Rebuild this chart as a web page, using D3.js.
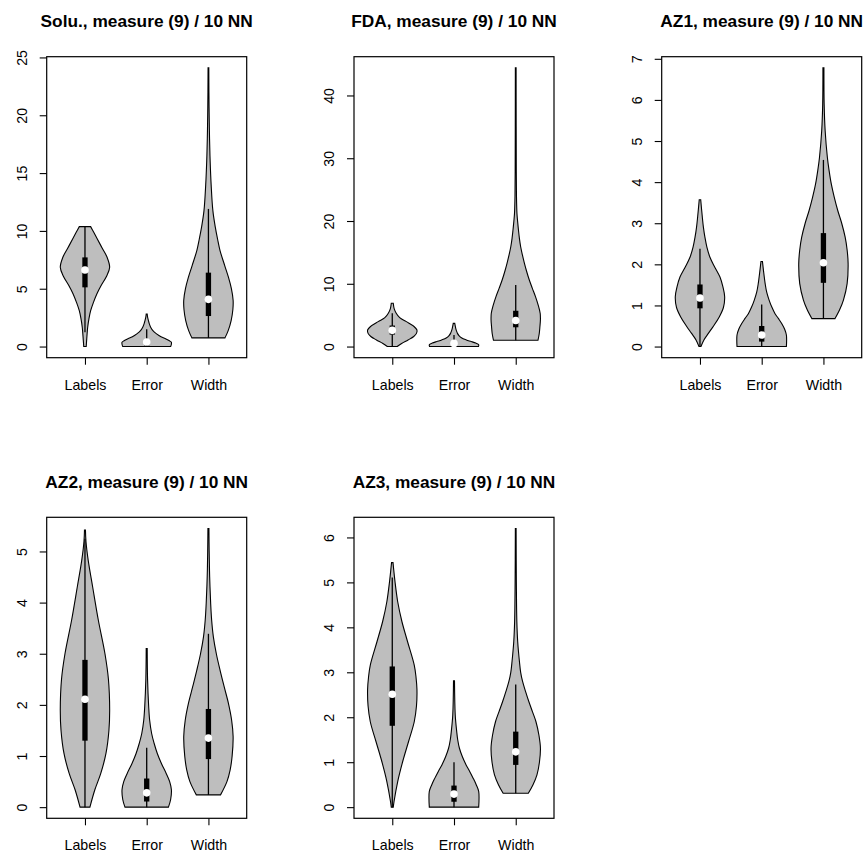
<!DOCTYPE html>
<html><head><meta charset="utf-8">
<script src="https://cdn.jsdelivr.net/npm/d3@7"></script>
<style>body{margin:0;background:#fff}</style>
</head><body><svg id="chart" width="865" height="852"></svg>
<script>
const categories = ["Labels", "Error", "Width"];
const panelTitles = ["Solu., measure (9) / 10 NN", "FDA, measure (9) / 10 NN", "AZ1, measure (9) / 10 NN",
                     "AZ2, measure (9) / 10 NN", "AZ3, measure (9) / 10 NN"];
const yTicks = [[0, 5, 10, 15, 20, 25], [0, 10, 20, 30, 40], [0, 1, 2, 3, 4, 5, 6, 7], [0, 1, 2, 3, 4, 5], [0, 1, 2, 3, 4, 5, 6]];

// density profiles: [value, relative half-width]
const soluLabels = [[0,0.05],[0.6,0.07],[1.67,0.11],[2.4,0.16],[3.1,0.23],[3.8,0.34],[4.55,0.48],[5.3,0.66],[6.1,0.88],[6.85,1.0],[7.7,0.9],[8.5,0.7],[9.3,0.5],[9.9,0.35],[10.37,0.23]];
const soluError  = [[0,0.97],[0.2,1.0],[0.37,1.0],[0.5,0.92],[0.66,0.78],[0.85,0.58],[1.1,0.4],[1.35,0.26],[1.67,0.16],[2.0,0.1],[2.25,0.07],[2.5,0.04],[2.82,0.02]];
const soluWidth  = [[0.75,0.67],[1.38,0.8],[2.25,0.92],[3.2,0.99],[4.0,1.0],[5.0,0.93],[6.0,0.81],[7.0,0.66],[8.3,0.47],[9.3,0.37],[10.3,0.28],[11.75,0.18],[14,0.11],[16,0.07],[18,0.045],[20,0.03],[22,0.02],[24.1,0.015]];
const fdaLabels  = [[0,0.2],[0.5,0.38],[1.05,0.64],[1.6,0.87],[2.1,0.98],[2.64,1.0],[3.2,0.88],[3.97,0.57],[4.6,0.3],[5.3,0.16],[6.0,0.08],[6.9,0.04]];
const fdaError   = [[0,0.99],[0.3,1.0],[0.55,0.88],[0.8,0.7],[1.05,0.5],[1.4,0.3],[1.75,0.2],[2.1,0.14],[2.5,0.1],[2.9,0.07],[3.3,0.05],[3.7,0.03]];
const fdaWidth   = [[1.0,0.9],[2,0.95],[3.2,0.98],[4.3,1.0],[5.3,0.99],[6.6,0.91],[7.95,0.8],[9.3,0.67],[10.6,0.55],[12,0.44],[13.3,0.35],[14.6,0.27],[15.9,0.2],[17.2,0.15],[18.6,0.11],[20,0.075],[21.2,0.05],[24,0.03],[28,0.022],[35,0.018],[44.4,0.015]];
const az1Labels  = [[0,0.04],[0.16,0.16],[0.32,0.34],[0.5,0.55],[0.72,0.78],[0.95,0.95],[1.21,1.0],[1.45,0.93],[1.69,0.81],[1.93,0.6],[2.18,0.4],[2.42,0.28],[2.66,0.2],[2.9,0.14],[3.15,0.095],[3.57,0.03]];
const az1Error   = [[0,1.0],[0.28,1.0],[0.42,0.93],[0.56,0.81],[0.68,0.68],[0.8,0.54],[0.96,0.41],[1.13,0.3],[1.33,0.2],[1.53,0.14],[1.86,0.07],[2.07,0.03]];
const az1Width   = [[0.68,0.47],[0.9,0.66],[1.13,0.81],[1.53,0.96],[2.02,1.0],[2.35,0.96],[2.66,0.88],[3.0,0.74],[3.31,0.58],[3.63,0.44],[3.95,0.32],[4.28,0.23],[4.6,0.16],[5.25,0.07],[5.89,0.03],[6.78,0.02]];
const az2Labels  = [[0,0.2],[0.34,0.4],[0.66,0.64],[1.05,0.85],[1.5,0.97],[1.9,1.0],[2.5,0.95],[3.0,0.81],[3.66,0.54],[4.31,0.31],[4.83,0.13],[5.2,0.04],[5.42,0.02]];
const az2Error   = [[0,0.88],[0.15,0.97],[0.34,1.0],[0.5,0.93],[0.66,0.79],[0.85,0.6],[1.05,0.43],[1.25,0.3],[1.44,0.2],[1.7,0.12],[1.97,0.08],[2.5,0.035],[3.1,0.02]];
const az2Width   = [[0.24,0.49],[0.5,0.75],[0.73,0.88],[1.0,0.96],[1.38,1.0],[1.7,0.94],[2.03,0.81],[2.35,0.64],[2.68,0.47],[3.0,0.32],[3.33,0.2],[3.66,0.13],[3.99,0.09],[4.5,0.05],[5.0,0.03],[5.45,0.02]];
const az3Labels  = [[0,0.04],[0.12,0.07],[0.57,0.22],[1.01,0.42],[1.46,0.66],[1.9,0.89],[2.25,0.98],[2.61,1.0],[2.9,0.96],[3.16,0.89],[3.68,0.62],[4.13,0.39],[4.57,0.22],[5.02,0.11],[5.44,0.03]];
const az3Error   = [[0,1.0],[0.35,1.0],[0.5,0.9],[0.64,0.78],[0.8,0.63],[0.94,0.49],[1.12,0.34],[1.31,0.22],[1.5,0.15],[1.68,0.11],[2.05,0.05],[2.81,0.02]];
const az3Width   = [[0.31,0.51],[0.5,0.7],[0.72,0.86],[1.0,0.96],[1.31,1.0],[1.6,0.94],[1.9,0.82],[2.12,0.68],[2.35,0.53],[2.57,0.4],[2.79,0.28],[3.0,0.2],[3.24,0.15],[3.68,0.08],[4.13,0.045],[5.0,0.025],[6.2,0.015]];

// box stats: [lower whisker, q1, median, q3, upper whisker]
const soluStats = [[1.24,5.12,6.62,7.71,10.37],[0,0.1,0.4,0.6,1.5],[0.75,2.64,4.08,6.39,11.9]];
const fdaStats  = [[0,1.9,2.58,3.35,5.3],[0,0.15,0.5,0.75,1.85],[1.0,3.07,4.15,5.7,9.8]];
const az1Stats  = [[0,0.93,1.18,1.51,2.38],[0,0.12,0.28,0.5,1.02],[0.68,1.55,2.04,2.76,4.54]];
const az2Stats  = [[0,1.3,2.11,2.88,5.25],[0,0.11,0.28,0.56,1.16],[0.24,0.94,1.35,1.92,3.39]];
const az3Stats  = [[0,1.81,2.51,3.13,5.11],[0,0.12,0.29,0.48,1.0],[0.31,0.94,1.23,1.68,2.73]];

const profiles = [[soluLabels, soluError, soluWidth], [fdaLabels, fdaError, fdaWidth], [az1Labels, az1Error, az1Width],
                  [az2Labels, az2Error, az2Width], [az3Labels, az3Error, az3Width]];
const stats = [soluStats, fdaStats, az1Stats, az2Stats, az3Stats];

const svg = d3.select("#chart");
const FONT = "'Liberation Sans', Arial, Helvetica, sans-serif";
const lefts = [46.7, 354, 661.7], tops = [56.7, 517.3];
const W = 200, H = 301;

panelTitles.forEach((title, p) => {
  const col = p % 3, row = Math.floor(p / 3);
  const g = svg.append("g").attr("transform", `translate(${lefts[col]},${tops[row]})`);
  const prof = profiles[p], st = stats[p];
  const allV = prof.flat().map(d => d[0]);
  const vmin = d3.min(allV), vmax = d3.max(allV), ext = (vmax - vmin) * 0.04;
  const y = d3.scaleLinear().domain([vmin - ext, vmax + ext]).range([H, 0]);
  const x = d3.scaleLinear().domain([0.5 - 0.12, 3.5 + 0.12]).range([0, W]);
  const unit = x(2) - x(1);

  prof.forEach((pr, i) => {
    const cx = x(i + 1), hw = 0.4 * unit;
    const area = d3.area()
      .y(d => y(d[0]))
      .x0(d => cx - d[1] * hw)
      .x1(d => cx + d[1] * hw)
      .curve(d3.curveCatmullRom.alpha(0.5));
    g.append("path").attr("d", area(pr))
      .attr("fill", "#BEBEBE").attr("stroke", "#000").attr("stroke-width", 1.1);
    const s = st[i];
    g.append("line").attr("x1", cx).attr("x2", cx).attr("y1", y(s[0])).attr("y2", y(s[4]))
      .attr("stroke", "#000").attr("stroke-width", 1.3);
    const bw = 0.086 * unit;
    g.append("rect").attr("x", cx - bw / 2).attr("width", bw)
      .attr("y", y(s[3])).attr("height", y(s[1]) - y(s[3])).attr("fill", "#000");
    g.append("circle").attr("cx", cx).attr("cy", y(s[2])).attr("r", 3.8).attr("fill", "#fff");
  });

  // axes
  const ya = g.append("g").call(d3.axisLeft(y).tickValues(yTicks[p]).tickSize(7).tickFormat(d3.format("d")));
  ya.select(".domain").remove();
  ya.selectAll("line").attr("stroke", "#000").attr("stroke-width", 1.1);
  ya.selectAll("text").attr("x", null).attr("dy", null).attr("text-anchor", "middle")
    .attr("transform", "translate(-20,0) rotate(-90)")
    .attr("font-family", FONT).attr("font-size", 14.2).attr("fill", "#000");

  const xa = g.append("g").attr("transform", `translate(0,${H})`)
    .call(d3.axisBottom(x).tickValues([1, 2, 3]).tickSize(7).tickFormat((d, i) => categories[i]));
  xa.select(".domain").remove();
  xa.selectAll("line").attr("stroke", "#000").attr("stroke-width", 1.1);
  xa.selectAll("text").attr("dy", null).attr("y", 32)
    .attr("font-family", FONT).attr("font-size", 14.2).attr("fill", "#000");

  g.append("rect").attr("width", W).attr("height", H).attr("fill", "none")
    .attr("stroke", "#000").attr("stroke-width", 1.2);

  g.append("text").attr("x", W / 2).attr("y", -29.5).attr("text-anchor", "middle")
    .attr("font-family", FONT).attr("font-weight", "bold").attr("font-size", 17.3)
    .attr("fill", "#000").text(title);
});
</script></body></html>
